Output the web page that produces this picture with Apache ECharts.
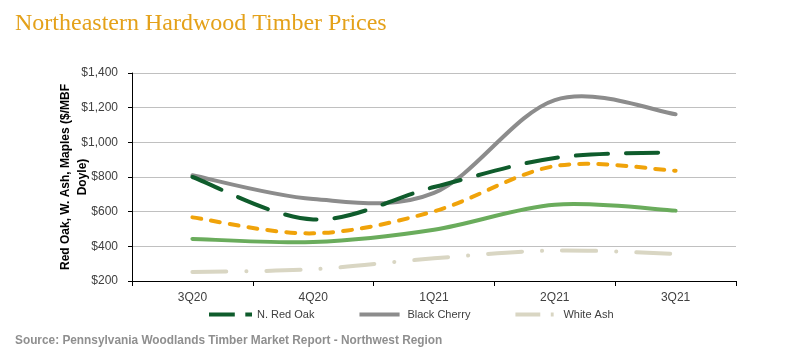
<!DOCTYPE html>
<html>
<head>
<meta charset="utf-8">
<script src="https://cdn.jsdelivr.net/npm/echarts@6/dist/echarts.min.js"></script>
<style>html,body{margin:0;padding:0;background:#fff;}#c{width:805px;height:363px;}</style>
</head>
<body>
<div id="c"></div>
<script>
var categories = ['3Q20', '4Q20', '1Q21', '2Q21', '3Q21'];
var redOak = [800, 555, 742, 910, 943];
var blackCherry = [810, 673, 708, 1244, 1162];
var sugarMaple = [567, 475, 602, 863, 836];
var redMaple = [443, 425, 496, 640, 606];
var whiteAsh = [252, 268, 331, 376, 356];
var yTicks = [200, 1400, 200];

// Excel-like smoothed line drawn through the chart's own coordinate system
function smoothSeries(name, values, color, dash, z) {
  return {
    name: name,
    type: 'custom',
    coordinateSystem: 'cartesian2d',
    z: z,
    data: values.map(function (v, i) { return [i, v]; }),
    encode: {x: 0, y: 1},
    itemStyle: {color: color},
    renderItem: function (params, api) {
      if (params.dataIndex !== 0) return null;
      var p = values.map(function (v, i) { return api.coord([i, v]); });
      var n = p.length;
      var d = 'M' + p[0][0] + ',' + p[0][1];
      for (var i = 0; i < n - 1; i++) {
        var p0 = p[Math.max(i - 1, 0)], p1 = p[i], p2 = p[i + 1], p3 = p[Math.min(i + 2, n - 1)];
        var c1x = p1[0] + (p2[0] - p0[0]) / 6, c1y = p1[1] + (p2[1] - p0[1]) / 6;
        var c2x = p2[0] - (p3[0] - p1[0]) / 6, c2y = p2[1] - (p3[1] - p1[1]) / 6;
        d += 'C' + c1x + ',' + c1y + ',' + c2x + ',' + c2y + ',' + p2[0] + ',' + p2[1];
      }
      return {
        type: 'path',
        shape: {pathData: d},
        style: {fill: 'none', stroke: color, lineWidth: 4, lineDash: dash, lineCap: 'round', lineJoin: 'round'}
      };
    }
  };
}

var chart = echarts.init(document.getElementById('c'));
chart.setOption({
  animation: false,
  backgroundColor: '#ffffff',
  title: [{
    text: 'Northeastern Hardwood Timber Prices',
    left: 10, top: 7,
    textStyle: {fontFamily: 'Liberation Serif', fontWeight: 'normal', fontSize: 24, color: '#E4A11A'}
  }, {
    text: 'Source: Pennsylvania Woodlands Timber Market Report - Northwest Region',
    left: 10, top: 330,
    textStyle: {fontFamily: 'Liberation Sans', fontWeight: 'bold', fontSize: 11.85, color: '#8f8f8f'}
  }],
  legend: {
    left: 204, top: 304,
    itemWidth: 43, itemHeight: 4, itemGap: 45,
    symbolKeepAspect: false,
    textStyle: {fontFamily: 'Liberation Sans', fontSize: 11, color: '#404040'},
    data: [
      {name: 'N. Red Oak', icon: 'path://M0,0H27V3H0Z M38,0H45V3H38Z', itemStyle: {color: '#0f5c2c'}},
      {name: 'Black Cherry', icon: 'path://M0,0H42V3H0Z M44.95,0H45V0.01H44.95Z', itemStyle: {color: '#8c8c8c'}},
      {name: 'White Ash', icon: 'path://M0,0H26V3H0Z M37,0H40V3H37Z M44.95,0H45V0.01H44.95Z', itemStyle: {color: '#d9d6c3'}}
    ]
  },
  grid: {left: 132, right: 69, top: 73, bottom: 82},
  xAxis: {
    type: 'category',
    data: categories,
    boundaryGap: true,
    axisLine: {lineStyle: {color: '#000', width: 1}},
    axisTick: {show: true, length: 5, lineStyle: {color: '#000'}},
    axisLabel: {fontFamily: 'Liberation Sans', fontSize: 12, color: '#404040', margin: 11}
  },
  yAxis: {
    type: 'value',
    min: yTicks[0], max: yTicks[1], interval: yTicks[2],
    name: 'Red Oak, W. Ash, Maples ($/MBF\nDoyle)',
    nameLocation: 'middle',
    nameGap: 41,
    nameMoveOverlap: false,
    nameTextStyle: {fontFamily: 'Liberation Sans', fontWeight: 'bold', fontSize: 12, color: '#000', lineHeight: 17},
    axisLine: {show: true, lineStyle: {color: '#000', width: 1}},
    axisTick: {show: true, length: 4, lineStyle: {color: '#000'}},
    splitLine: {lineStyle: {color: '#c0c0c0', width: 1}},
    axisLabel: {
      fontFamily: 'Liberation Sans', fontSize: 12, color: '#404040', margin: 14,
      formatter: function (v) { return '$' + v.toLocaleString('en-US'); }
    }
  },
  series: [
    smoothSeries('Black Cherry', blackCherry, '#8c8c8c', null, 2),
    smoothSeries('N. Red Oak', redOak, '#0f5c2c', [32, 18], 3),
    smoothSeries('Sugar Maple', sugarMaple, '#F0A30A', [9, 10], 3),
    smoothSeries('Red Maple', redMaple, '#6aac5c', null, 3),
    smoothSeries('White Ash', whiteAsh, '#d9d6c3', [34, 20, 0.1, 20], 3)
  ]
});
</script>
</body>
</html>
